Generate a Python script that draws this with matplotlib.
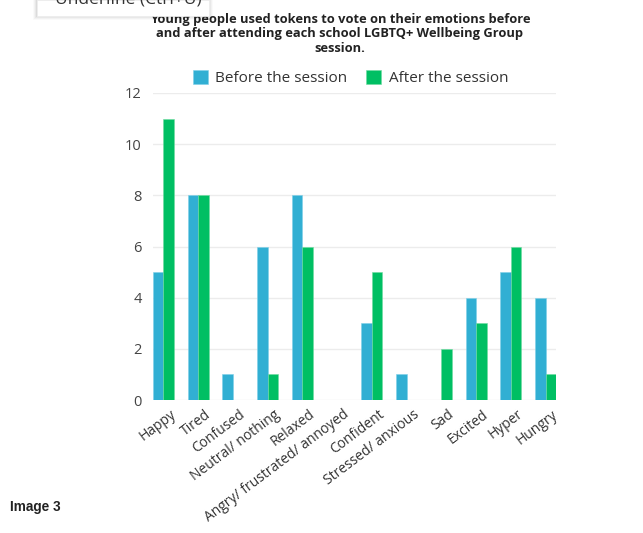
import matplotlib
matplotlib.use("Agg")
import matplotlib.pyplot as plt
from matplotlib.patches import Rectangle
import numpy as np

categories = ["Happy", "Tired", "Confused", "Neutral/ nothing", "Relaxed",
              "Angry/ frustrated/ annoyed", "Confident", "Stressed/ anxious",
              "Sad", "Excited", "Hyper", "Hungry"]
before = [5, 8, 1, 6, 8, 0, 3, 1, 0, 4, 5, 4]
after = [11, 8, 0, 1, 6, 0, 5, 0, 2, 3, 6, 1]
series_names = ["Before the session", "After the session"]
y_ticks = [0, 2, 4, 6, 8, 10, 12]
title_text = ("Young people used tokens to vote on their emotions before\n"
              "and after attending each school LGBTQ+ Wellbeing Group\n"
              "session.")

BLUE = "#31AFD3"
GREEN = "#00BF63"
W, H = 643, 533

plt.rcParams['font.family'] = ['Open Sans', 'DejaVu Sans']
fig = plt.figure(figsize=(W / 100, H / 100), dpi=100)
fig.patch.set_facecolor("white")

def fx(px):
    return px / W

def fy(py):
    return 1 - py / H

ax = fig.add_axes([fx(153), fy(400), fx(556) - fx(153), fy(93) - fy(400)])
x = np.arange(len(categories))
w = 0.30
ax.bar(x - w / 2, before, width=w, color=BLUE, edgecolor="#7fd0e8", linewidth=0.4,
       label=series_names[0], zorder=3)
ax.bar(x + w / 2, after, width=w, color=GREEN, edgecolor="#6fdca0", linewidth=0.4,
       label=series_names[1], zorder=3)
ax.set_xlim(-w, len(categories) - 1 + w)
ax.set_ylim(0, 12)
ax.set_yticks(y_ticks)
ax.set_yticklabels([str(v) for v in y_ticks], fontsize=10.5, color="#444444")
ax.yaxis.grid(True, color="#ececec", linewidth=1.0, zorder=0)
ax.tick_params(axis="y", length=0, pad=8)
ax.tick_params(axis="x", length=0, pad=5)
for s in ax.spines.values():
    s.set_visible(False)
ax.set_xticks(x + 0.18)
ax.set_xticklabels(categories, rotation=37, ha="right", rotation_mode="anchor",
                   fontsize=10, color="#333333")

leg = ax.legend(loc="center", bbox_to_anchor=(0.49, 1.049), ncol=2, frameon=False,
                fontsize=11, handlelength=1.0, handleheight=1.0, handletextpad=0.5,
                columnspacing=1.2, labelcolor="#333333")

fig.text(fx(340), fy(34), title_text, ha="center", va="center", fontsize=9.3,
         fontweight="bold", color="#222222", linespacing=1.15)

# tooltip box at the top left
for i, a in enumerate([0.05, 0.04, 0.03, 0.02]):
    d = i + 1
    fig.patches.append(Rectangle((fx(37 - d), fy(16 + d)), fx(172 + 2 * d), fy(0) - fy(16 + d),
                                 transform=fig.transFigure, facecolor="black", alpha=a,
                                 edgecolor="none", zorder=5))
fig.patches.append(Rectangle((fx(37), fy(16)), fx(172), fy(0) - fy(16),
                             transform=fig.transFigure, facecolor="white",
                             edgecolor="#eeeeee", linewidth=0.5, zorder=6))
fig.text(fx(55), fy(-1), "Underline (Ctrl+U)", ha="left", va="center", fontsize=12.5,
         color="#333333", zorder=7)

fig.text(fx(10), fy(507), "Image 3", ha="left", va="center", fontsize=9.8,
         fontweight="bold", family=["Liberation Sans", "DejaVu Sans"], color="#222222")

fig.savefig("out.png", dpi=100, facecolor="white")
